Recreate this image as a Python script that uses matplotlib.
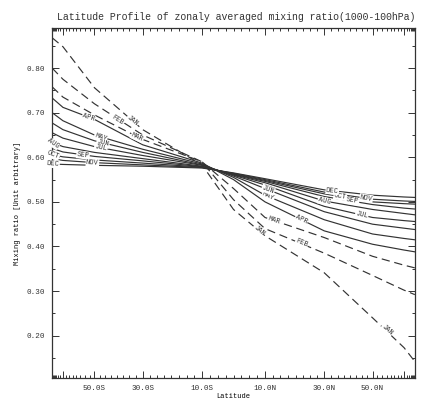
import numpy as np
import matplotlib
matplotlib.use('Agg')
import matplotlib.pyplot as plt
from matplotlib.ticker import MultipleLocator, FixedLocator

lats = [-87.5, -70, -50, -30, -10, 0, 10, 30, 50, 70, 87.5]

jan = [0.868, 0.848, 0.756, 0.662, 0.583, 0.483, 0.424, 0.341, 0.240, 0.173, 0.142]
feb = [0.800, 0.775, 0.720, 0.650, 0.590, 0.505, 0.440, 0.385, 0.335, 0.302, 0.292]
mar = [0.758, 0.735, 0.695, 0.640, 0.590, 0.530, 0.465, 0.420, 0.378, 0.358, 0.352]
apr = [0.733, 0.712, 0.685, 0.628, 0.587, 0.550, 0.500, 0.435, 0.405, 0.392, 0.388]
may = [0.700, 0.682, 0.650, 0.618, 0.585, 0.555, 0.515, 0.460, 0.428, 0.418, 0.415]
jun = [0.677, 0.662, 0.637, 0.611, 0.583, 0.558, 0.530, 0.478, 0.450, 0.441, 0.438]
jul = [0.655, 0.643, 0.624, 0.604, 0.582, 0.560, 0.538, 0.490, 0.465, 0.458, 0.456]
aug = [0.633, 0.624, 0.611, 0.597, 0.580, 0.561, 0.543, 0.502, 0.483, 0.474, 0.471]
sep = [0.620, 0.612, 0.602, 0.592, 0.579, 0.562, 0.546, 0.512, 0.494, 0.486, 0.484]
oct_ = [0.606, 0.601, 0.594, 0.587, 0.578, 0.563, 0.548, 0.518, 0.500, 0.496, 0.495]
nov = [0.597, 0.593, 0.588, 0.583, 0.577, 0.564, 0.550, 0.522, 0.506, 0.502, 0.501]
dec = [0.585, 0.584, 0.582, 0.580, 0.576, 0.565, 0.552, 0.527, 0.515, 0.511, 0.510]

months = ['JAN', 'FEB', 'MAR', 'APR', 'MAY', 'JUN', 'JUL', 'AUG', 'SEP', 'OCT', 'NOV', 'DEC']
series = [jan, feb, mar, apr, may, jun, jul, aug, sep, oct_, nov, dec]
dashed = ['JAN', 'FEB', 'MAR']

# where the inline month labels sit (latitudes)
label_lats = {
    'JAN': [-34, 8, 58], 'FEB': [-39.5, 22], 'MAR': [-32, 13], 'APR': [-53, 22],
    'MAY': [-47, 11], 'JUN': [-46, 11], 'JUL': [-47, 45], 'AUG': [-84, 30],
    'SEP': [-56, 41], 'OCT': [-84, 36], 'NOV': [-51, 47], 'DEC': [-84, 33],
}

mono = 'Liberation Mono'
ink = '#333333'


def fwd(x):
    return np.sin(np.radians(np.asarray(x, dtype=float)))


def inv(y):
    return np.degrees(np.arcsin(np.clip(np.asarray(y, dtype=float), -1, 1)))


def lat_fmt(v):
    if v < 0:
        return f'{abs(v):.1f}S'
    return f'{v:.1f}N'


fig = plt.figure(figsize=(4.23, 4.05), dpi=100)
ax = fig.add_axes([52 / 423, 27 / 405, 363 / 423, 350 / 405])
ax.set_xscale('function', functions=(fwd, inv))
ax.set_xlim(-90, 90)
ax.set_ylim(0.105, 0.89)

for name, vals in zip(months, series):
    ls = (0, (7, 4)) if name in dashed else '-'
    ax.plot(lats, vals, color=ink, lw=0.85, ls=ls)

# inline labels, rotated along the curve
for name, vals in zip(months, series):
    for la in label_lats[name]:
        yv = np.interp(la, lats, vals)
        p1 = ax.transData.transform((la - 2, np.interp(la - 2, lats, vals)))
        p2 = ax.transData.transform((la + 2, np.interp(la + 2, lats, vals)))
        ang = np.degrees(np.arctan2(p2[1] - p1[1], p2[0] - p1[0]))
        ax.text(la, yv, name, fontsize=5, family=mono, color=ink,
                rotation=ang, rotation_mode='anchor', ha='center', va='center',
                bbox=dict(facecolor='white', edgecolor='none', pad=0.3), zorder=3)

major_lat = [-70, -50, -30, -10, 10, 30, 50, 70]
ax.xaxis.set_major_locator(FixedLocator(major_lat))
ax.xaxis.set_minor_locator(FixedLocator(np.arange(-87.5, 90, 2.5)))
ax.set_xticklabels(['' if abs(v) == 70 else lat_fmt(v) for v in major_lat],
                   fontsize=5.5, family=mono)
ax.yaxis.set_minor_locator(MultipleLocator(0.05))
ax.set_yticks([0.2, 0.3, 0.4, 0.5, 0.6, 0.7, 0.8])
ax.set_yticklabels([f'{v:.2f}' for v in [0.2, 0.3, 0.4, 0.5, 0.6, 0.7, 0.8]],
                   fontsize=5.5, family=mono)
ax.tick_params(which='both', direction='in', top=True, right=True, colors=ink,
               width=0.7)
ax.tick_params(which='major', length=5, pad=5)
ax.tick_params(which='minor', length=2.5)
for s in ax.spines.values():
    s.set_color(ink)
    s.set_linewidth(0.9)

ax.set_xlabel('Latitude', fontsize=5, family=mono, labelpad=0.5)
ax.set_ylabel('Mixing ratio [Unit arbitrary]', fontsize=5, family=mono, labelpad=4)
fig.text(236 / 423, 1 - 17 / 405,
         'Latitude Profile of zonaly averaged mixing ratio(1000-100hPa)',
         fontsize=7.1, family=mono, ha='center', va='center', color=ink)

fig.savefig('out.png', dpi=100)
